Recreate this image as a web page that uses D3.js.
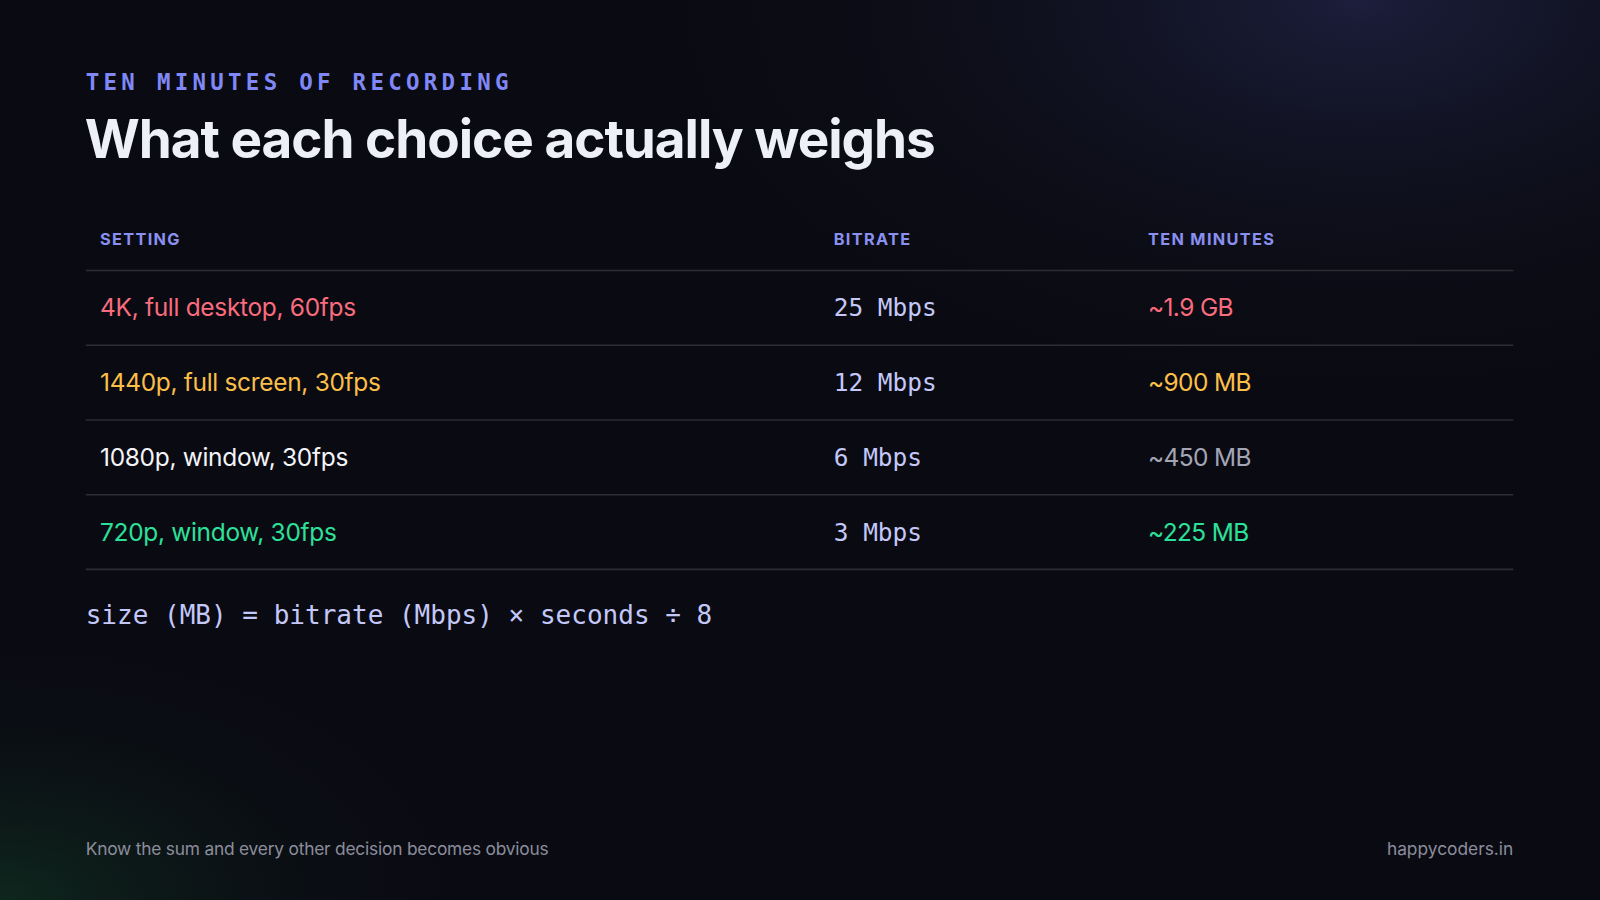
<!DOCTYPE html>
<html><head><meta charset="utf-8">
<script src="https://cdn.jsdelivr.net/npm/d3@7.9.0/dist/d3.min.js"></script>
<style>html,body{margin:0;background:#0a0b12;overflow:hidden}</style>
</head><body>
<svg id="chart" width="1600" height="900" viewBox="0 0 1568 882" preserveAspectRatio="none"></svg>
<script>
const headers = ['SETTING', 'BITRATE', 'TEN MINUTES'];
const settings = ['4K, full desktop, 60fps', '1440p, full screen, 30fps', '1080p, window, 30fps', '720p, window, 30fps'];
const bitrates = [25, 12, 6, 3];
const sizes = ['~1.9 GB', '~900 MB', '~450 MB', '~225 MB'];
const settingColors = ['#fb6b7e', '#fbbf4a', '#f4f4f8', '#2de09a'];
const sizeColors = ['#fb6b7e', '#fbbf4a', '#a3a5b5', '#2de09a'];

const svg = d3.select('#chart');
const W = 1568, H = 882, left = 84, right = 1483;

const defs = svg.append('defs');
const g1 = defs.append('radialGradient').attr('id', 'glowTR').attr('cx', 0.85).attr('cy', 0).attr('r', 0.45);
g1.append('stop').attr('offset', 0).attr('stop-color', '#1e2040').attr('stop-opacity', 0.9);
g1.append('stop').attr('offset', 1).attr('stop-color', '#0a0b12').attr('stop-opacity', 0);
const g2 = defs.append('radialGradient').attr('id', 'glowBL').attr('cx', 0).attr('cy', 1).attr('r', 0.3);
g2.append('stop').attr('offset', 0).attr('stop-color', '#0f2a1f').attr('stop-opacity', 0.9);
g2.append('stop').attr('offset', 1).attr('stop-color', '#0a0b12').attr('stop-opacity', 0);

svg.append('rect').attr('width', W).attr('height', H).attr('fill', '#0a0b12');
svg.append('rect').attr('width', W).attr('height', H).attr('fill', 'url(#glowTR)');
svg.append('rect').attr('width', W).attr('height', H).attr('fill', 'url(#glowBL)');

const sans = 'Inter, "Noto Sans", sans-serif';
const mono = '"DejaVu Sans Mono", "Liberation Mono", monospace';

svg.append('text').attr('x', left).attr('y', 88).text('TEN MINUTES OF RECORDING')
    .attr('font-family', mono).attr('font-weight', 700).attr('font-size', 22)
    .attr('letter-spacing', 4.2).attr('fill', '#8088f8');
svg.append('text').attr('x', left - 1).attr('y', 155).text('What each choice actually weighs')
    .attr('font-family', sans).attr('font-weight', 700).attr('font-size', 52)
    .attr('letter-spacing', -1).attr('fill', '#eef0f8');

const x = d3.scaleOrdinal().domain(headers).range([98, 817, 1125]);
const y = d3.scaleBand().domain(d3.range(settings.length)).range([265, 558]);

headers.forEach(h => {
    svg.append('text').attr('x', x(h)).attr('y', 240).text(h)
        .attr('font-family', sans).attr('font-weight', 700).attr('font-size', 16)
        .attr('letter-spacing', 1.3).attr('fill', '#8a90f0');
});

svg.append('line').attr('x1', left).attr('x2', right).attr('y1', 265).attr('y2', 265)
    .attr('stroke', '#2c2d35').attr('stroke-width', 1.5);

settings.forEach((s, i) => {
    const cy = y(i) + y.bandwidth() / 2;
    svg.append('text').attr('x', x(headers[0])).attr('y', cy).attr('dy', '0.35em').text(s)
        .attr('font-family', sans).attr('font-size', 24).attr('letter-spacing', -0.3).attr('fill', settingColors[i]);
    svg.append('text').attr('x', x(headers[1])).attr('y', cy).attr('dy', '0.35em').text(`${bitrates[i]} Mbps`)
        .attr('font-family', mono).attr('font-size', 24).attr('fill', '#c4c8f8');
    svg.append('text').attr('x', x(headers[2])).attr('y', cy).attr('dy', '0.35em').text(sizes[i])
        .attr('font-family', sans).attr('font-size', 24).attr('letter-spacing', -0.6).attr('fill', sizeColors[i]);
    svg.append('line').attr('x1', left).attr('x2', right)
        .attr('y1', y(i) + y.bandwidth()).attr('y2', y(i) + y.bandwidth())
        .attr('stroke', '#2c2d35').attr('stroke-width', 1.5);
});

svg.append('text').attr('x', left).attr('y', 612).text('size (MB) = bitrate (Mbps) × seconds ÷ 8')
    .attr('font-family', mono).attr('font-size', 25.5).attr('fill', '#c4c8f8');

svg.append('text').attr('x', left).attr('y', 838).text('Know the sum and every other decision becomes obvious')
    .attr('font-family', sans).attr('font-size', 17).attr('letter-spacing', -0.2).attr('fill', '#8b8d9c');
svg.append('text').attr('x', right).attr('y', 838).attr('text-anchor', 'end').text('happycoders.in')
    .attr('font-family', sans).attr('font-size', 17).attr('fill', '#8b8d9c');
</script>
</body></html>
